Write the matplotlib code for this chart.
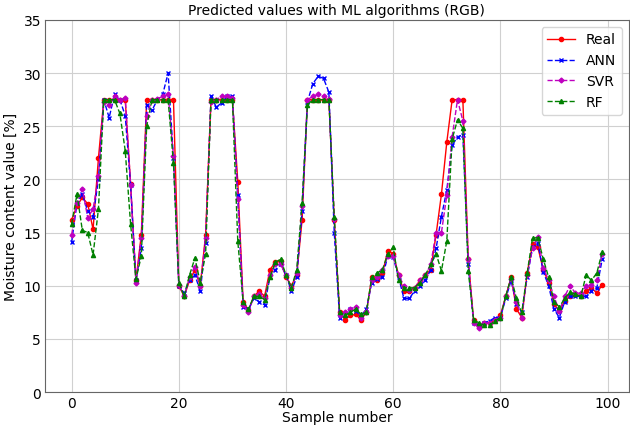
import matplotlib
matplotlib.use('Agg')
import matplotlib.pyplot as plt

real = [16.2, 17.5, 18.3, 17.7, 15.3, 22.0, 27.5, 27.5, 27.5, 27.5,
        27.5, 19.6, 10.5, 14.8, 27.5, 27.5, 27.5, 27.5, 27.5, 27.5,
        10.0, 9.0, 10.5, 11.5, 10.0, 14.8, 27.5, 27.5, 27.5, 27.5,
        27.5, 19.8, 8.5, 7.7, 9.0, 9.5, 9.0, 11.5, 12.2, 12.3,
        10.8, 10.0, 11.0, 16.2, 27.5, 27.5, 27.5, 27.5, 27.5, 16.2,
        7.5, 6.8, 7.2, 7.3, 6.8, 7.5, 10.8, 10.5, 11.2, 13.3,
        13.0, 11.0, 9.5, 9.5, 9.8, 10.5, 11.0, 11.5, 14.8, 18.6,
        23.5, 27.5, 27.5, 27.5, 12.5, 6.8, 6.2, 6.5, 6.5, 6.8,
        7.2, 9.0, 10.8, 7.8, 7.0, 11.2, 13.9, 13.6, 11.5, 10.3,
        8.3, 7.6, 8.6, 9.0, 9.2, 9.0, 9.5, 9.8, 9.3, 10.1]

ann = [14.1, 17.8, 18.6, 17.0, 16.5, 20.0, 27.5, 25.8, 28.0, 27.5,
       26.0, 19.5, 10.5, 13.5, 27.0, 26.5, 27.5, 28.0, 30.0, 22.0,
       10.0, 9.3, 10.5, 11.0, 9.5, 14.0, 27.8, 26.8, 27.2, 27.8,
       27.8, 18.5, 8.0, 7.8, 8.8, 8.5, 8.2, 10.8, 11.5, 12.0,
       11.0, 9.5, 10.8, 17.0, 27.3, 29.0, 29.7, 29.5, 28.2, 15.0,
       7.0, 7.2, 7.8, 7.6, 7.2, 7.8, 10.3, 10.6, 10.8, 12.8,
       12.7, 10.8, 8.8, 8.8, 9.5, 10.0, 10.5, 11.5, 13.5, 16.5,
       19.0, 23.2, 24.0, 24.2, 12.0, 6.5, 6.3, 6.5, 6.7, 7.0,
       7.0, 8.8, 10.5, 8.3, 7.5, 10.8, 13.6, 14.0, 11.3, 10.0,
       7.8, 7.0, 8.5, 9.0, 9.0, 9.0, 9.0, 9.5, 9.8, 12.5]

svr = [14.8, 17.8, 19.1, 16.4, 17.2, 20.3, 27.3, 27.0, 27.8, 27.5,
       27.7, 19.5, 10.3, 14.5, 26.0, 27.5, 27.6, 27.8, 28.0, 22.2,
       10.1, 9.0, 10.8, 11.8, 10.0, 14.5, 27.3, 27.5, 27.8, 27.8,
       27.7, 18.2, 8.2, 7.5, 9.0, 9.2, 8.8, 11.0, 12.0, 12.0,
       11.0, 9.8, 11.2, 17.5, 27.5, 27.8, 28.0, 27.8, 27.6, 16.3,
       7.2, 7.5, 7.8, 8.0, 7.0, 7.5, 10.5, 10.8, 11.5, 12.8,
       12.8, 11.0, 10.0, 9.6, 9.8, 10.5, 11.0, 12.0, 15.0, 15.0,
       18.5, 24.0, 27.5, 25.5, 12.5, 6.5, 6.0, 6.5, 6.5, 6.8,
       7.0, 9.0, 10.6, 8.5, 7.0, 11.0, 13.5, 14.6, 11.7, 10.5,
       9.0, 7.6, 9.0, 10.0, 9.3, 9.3, 10.0, 10.1, 10.5, 13.0]

rf = [15.8, 18.6, 15.2, 15.0, 12.9, 17.2, 27.5, 27.5, 27.5, 26.2,
      22.7, 15.8, 10.6, 12.8, 25.0, 27.5, 27.5, 27.5, 27.5, 21.5,
      10.3, 9.0, 11.0, 12.6, 10.3, 13.0, 27.5, 27.5, 27.5, 27.5,
      27.5, 14.2, 8.5, 7.8, 9.0, 9.0, 8.7, 10.8, 12.2, 12.5,
      11.0, 9.8, 11.5, 17.8, 27.0, 27.5, 27.5, 27.5, 27.5, 16.5,
      7.5, 7.2, 7.5, 7.8, 7.3, 7.5, 10.8, 11.2, 11.5, 13.0,
      13.6, 10.5, 9.8, 9.8, 9.8, 10.3, 11.0, 12.0, 13.0, 11.4,
      14.2, 23.8, 25.6, 24.8, 11.4, 6.8, 6.5, 6.3, 6.3, 6.7,
      7.0, 9.0, 10.8, 8.8, 7.5, 11.2, 14.5, 14.5, 12.5, 10.8,
      8.5, 8.0, 8.8, 9.4, 9.2, 9.0, 11.0, 10.5, 11.2, 13.2]

samples = list(range(len(real)))

plt.rcParams['font.size'] = 10
fig, ax = plt.subplots(figsize=(6.3, 4.27), dpi=100)
ax.plot(samples, real, 'o-r', markersize=3, linewidth=1, label='Real')
ax.plot(samples, ann, 'x--b', markersize=3, linewidth=1, label='ANN')
ax.plot(samples, svr, 'D--m', markersize=2.5, linewidth=1, label='SVR')
ax.plot(samples, rf, '^--g', markersize=3, linewidth=1, label='RF')
ax.set_ylim(0, 35)
ax.grid(True, color='#d0d0d0')
for s in ax.spines.values():
    s.set_color('#666666')
ax.tick_params(length=0, pad=3)
ax.set_title('Predicted values with ML algorithms (RGB)', fontsize=10, pad=4)
ax.set_xlabel('Sample number', labelpad=0)
ax.set_ylabel('Moisture content value [%]', labelpad=4)
ax.legend(loc='upper right')
fig.subplots_adjust(left=0.0716, right=0.998, top=0.951, bottom=0.0796)
fig.savefig('out.png')
